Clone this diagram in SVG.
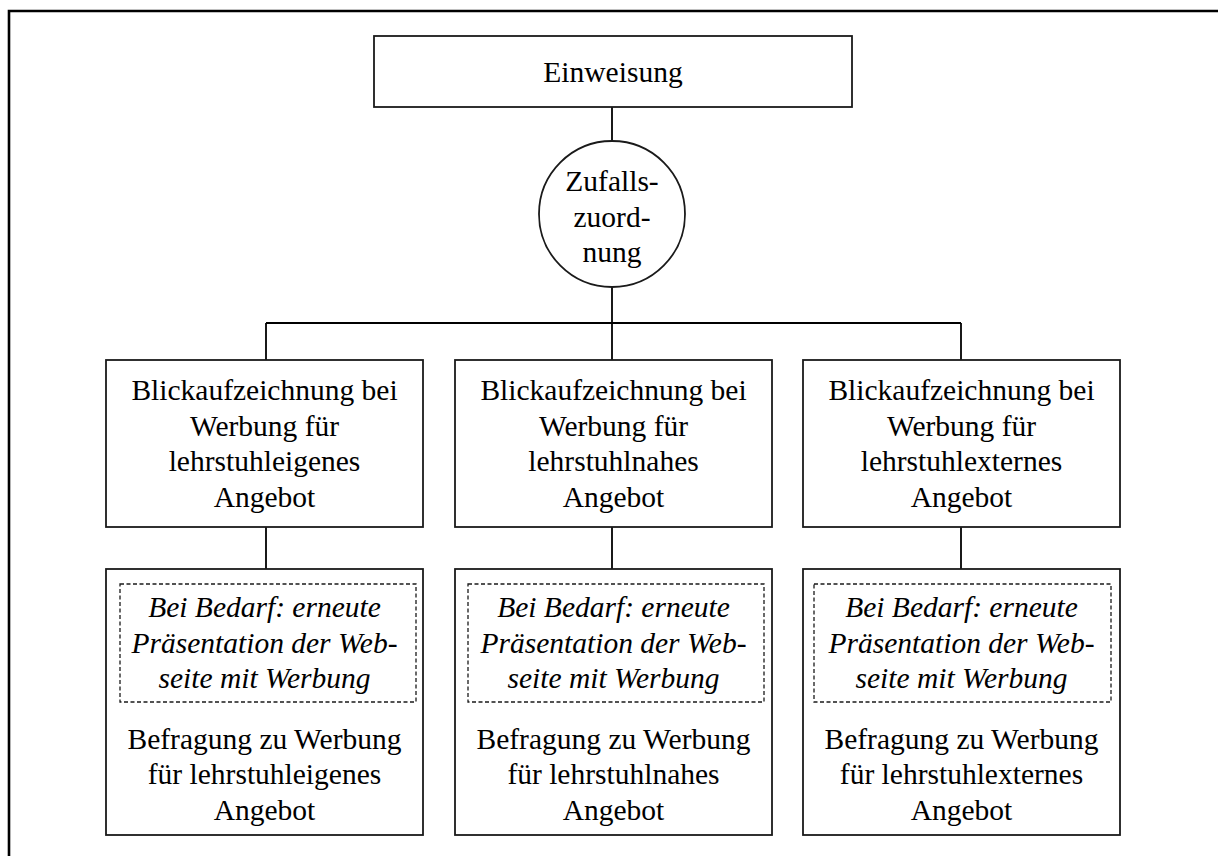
<svg xmlns="http://www.w3.org/2000/svg" width="1218" height="856" viewBox="0 0 1218 856">
<style>
.box{fill:#fff;stroke:#1a1a1a;stroke-width:1.8}
.dash{fill:none;stroke:#1a1a1a;stroke-width:1.3;stroke-dasharray:4 2.5}
.con{fill:none;stroke:#000;stroke-width:1.8}
text{font-size:29.5px;fill:#000;text-anchor:middle}
.it{font-style:italic}
</style>
<rect x="0" y="0" width="1218" height="856" fill="#fff"/>
<path d="M9 860 V11 H1225" fill="none" stroke="#000" stroke-width="2.6"/>
<g id="connectors">
<line class="con" x1="612" y1="107" x2="612" y2="141"/>
<line class="con" x1="612" y1="287" x2="612" y2="323"/>
<line class="con" x1="266" y1="323" x2="961" y2="323"/>
<line class="con" x1="266" y1="323" x2="266" y2="360"/>
<line class="con" x1="612" y1="323" x2="612" y2="360"/>
<line class="con" x1="961" y1="323" x2="961" y2="360"/>
<line class="con" x1="266" y1="527" x2="266" y2="569"/>
<line class="con" x1="612" y1="527" x2="612" y2="569"/>
<line class="con" x1="961" y1="527" x2="961" y2="569"/>
</g>
<g font-family="'Liberation Serif', 'DejaVu Serif', serif">
<g id="einweisung">
<rect class="box" x="374" y="36" width="478" height="71"/>
<text x="613" y="82">Einweisung</text>
</g>
<g id="zufall">
<circle class="box" cx="612" cy="214" r="73"/>
<text x="612" y="191">Zufalls-</text>
<text x="612" y="226.5">zuord-</text>
<text x="612" y="262">nung</text>
</g>
<g id="blick1">
<rect class="box" x="106" y="360" width="317" height="167"/>
<text x="264.5" y="400">Blickaufzeichnung bei</text>
<text x="264.5" y="435.5">Werbung für</text>
<text x="264.5" y="471">lehrstuhleigenes</text>
<text x="264.5" y="506.5">Angebot</text>
</g>
<g id="blick2">
<rect class="box" x="455" y="360" width="317" height="167"/>
<text x="613.5" y="400">Blickaufzeichnung bei</text>
<text x="613.5" y="435.5">Werbung für</text>
<text x="613.5" y="471">lehrstuhlnahes</text>
<text x="613.5" y="506.5">Angebot</text>
</g>
<g id="blick3">
<rect class="box" x="803" y="360" width="317" height="167"/>
<text x="961.5" y="400">Blickaufzeichnung bei</text>
<text x="961.5" y="435.5">Werbung für</text>
<text x="961.5" y="471">lehrstuhlexternes</text>
<text x="961.5" y="506.5">Angebot</text>
</g>
<g id="befragung1">
<rect class="box" x="106" y="569" width="317" height="266"/>
<rect class="dash" x="120" y="584" width="296" height="118"/>
<text class="it" x="264.5" y="617">Bei Bedarf: erneute</text>
<text class="it" x="264.5" y="652.5">Präsentation der Web-</text>
<text class="it" x="264.5" y="688">seite mit Werbung</text>
<text x="264.5" y="748.5">Befragung zu Werbung</text>
<text x="264.5" y="784">für lehrstuhleigenes</text>
<text x="264.5" y="819.5">Angebot</text>
</g>
<g id="befragung2">
<rect class="box" x="455" y="569" width="317" height="266"/>
<rect class="dash" x="468" y="584" width="296" height="118"/>
<text class="it" x="613.5" y="617">Bei Bedarf: erneute</text>
<text class="it" x="613.5" y="652.5">Präsentation der Web-</text>
<text class="it" x="613.5" y="688">seite mit Werbung</text>
<text x="613.5" y="748.5">Befragung zu Werbung</text>
<text x="613.5" y="784">für lehrstuhlnahes</text>
<text x="613.5" y="819.5">Angebot</text>
</g>
<g id="befragung3">
<rect class="box" x="803" y="569" width="317" height="266"/>
<rect class="dash" x="814" y="584" width="297" height="118"/>
<text class="it" x="961.5" y="617">Bei Bedarf: erneute</text>
<text class="it" x="961.5" y="652.5">Präsentation der Web-</text>
<text class="it" x="961.5" y="688">seite mit Werbung</text>
<text x="961.5" y="748.5">Befragung zu Werbung</text>
<text x="961.5" y="784">für lehrstuhlexternes</text>
<text x="961.5" y="819.5">Angebot</text>
</g>
</g>
</svg>
